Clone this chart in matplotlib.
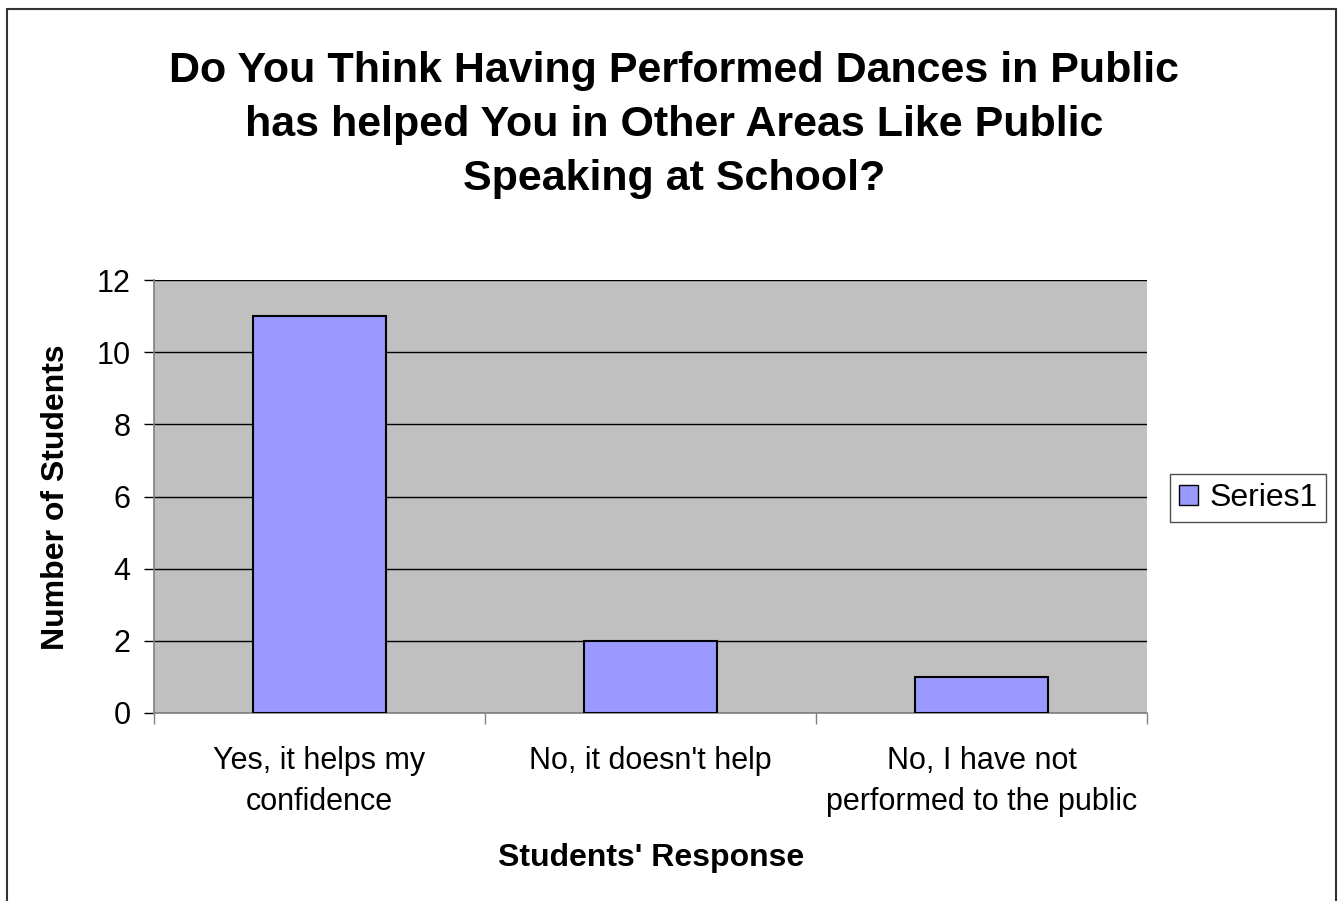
import matplotlib
matplotlib.use("Agg")
import matplotlib.pyplot as plt
from matplotlib.patches import Rectangle, Patch
import numpy as np

plt.rcParams['font.family'] = ['Liberation Sans', 'DejaVu Sans']

categories = ["Yes, it helps my\nconfidence", "No, it doesn't help", "No, I have not\nperformed to the public"]
values = [11, 2, 1]
yticks = [0, 2, 4, 6, 8, 10, 12]
title = "Do You Think Having Performed Dances in Public\nhas helped You in Other Areas Like Public\nSpeaking at School?"

W, H = 1340, 901
fig = plt.figure(figsize=(W / 100, H / 100), dpi=100)
fig.patch.set_facecolor("white")
# figure border
fig.add_artist(Rectangle((7 / W, -0.01), (1336 - 7) / W, 1 - 9 / H + 0.01, transform=fig.transFigure,
                         fill=False, edgecolor="#333333", linewidth=1.5))

L, R, T, B = 154, 1147, 280, 713
ax = fig.add_axes([L / W, 1 - B / H, (R - L) / W, (B - T) / H])
ax.set_facecolor("#C0C0C0")
x = np.arange(len(categories))
ax.bar(x, values, width=0.40, color="#9999FF", edgecolor="black", linewidth=1.5, zorder=3,
       label="Series1")
ax.set_xlim(-0.5, len(categories) - 0.5)
ax.set_ylim(0, 12)
ax.set_yticks(yticks)
ax.yaxis.grid(True, color="black", linewidth=1.0, zorder=1)
ax.set_axisbelow(True)
ax.tick_params(axis="y", labelsize=22, length=7, width=1, color="black", direction="out", pad=10)
ax.set_xticks(x)
ax.set_xticklabels(categories, fontsize=22, linespacing=1.45)
ax.tick_params(axis="x", length=0, pad=24)
# minor ticks on category boundaries
ax.set_xticks(np.arange(-0.5, len(categories), 1.0), minor=True)
ax.tick_params(axis="x", which="minor", length=8, width=1, color="#808080", direction="out")
for s in ["top", "right"]:
    ax.spines[s].set_visible(False)
ax.spines["left"].set_color("#808080")
ax.spines["bottom"].set_color("#808080")
ax.spines["left"].set_linewidth(1.2)
ax.spines["bottom"].set_linewidth(1.2)

ax.set_ylabel("Number of Students", fontsize=23, fontweight="bold", va="center")
ax.yaxis.set_label_coords((56 - L) / (R - L), 0.5 - (497 - (T + B) / 2) / (B - T))
ax.set_xlabel("Students' Response", fontsize=23, fontweight="bold", va="center")
ax.xaxis.set_label_coords(0.5 + (651 - (L + R) / 2) / (R - L), (B - 858) / (B - T))

fig.text(674 / W, 1 - 125 / H, title, ha="center", va="center", fontsize=31, fontweight="bold",
         linespacing=1.46)

leg = fig.legend(handles=[Patch(facecolor="#9999FF", edgecolor="black", linewidth=1.0, label="Series1")],
                 loc="center", bbox_to_anchor=(1248 / W, 1 - 498 / H), fontsize=23,
                 frameon=True, fancybox=False, handlelength=0.6, handleheight=0.6,
                 handletextpad=0.35, borderpad=0.28, borderaxespad=0)
leg.get_frame().set_edgecolor("#222222")
leg.get_frame().set_linewidth(1.0)

fig.savefig("out.png", dpi=100)
